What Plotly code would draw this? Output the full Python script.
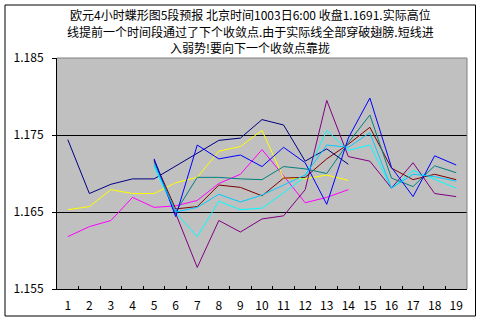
import plotly.graph_objects as go

# 4-hour periods on the category axis
periods = [str(i) for i in range(1, 20)]

# actual price lines (periods 1-14)
actual_high = [1.1744, 1.1674, 1.1686, 1.1693, 1.1693, 1.1710, 1.1727, 1.1743, 1.1746, 1.1770,
               1.1763, 1.1716, 1.1732, 1.1712, None, None, None, None, None]
actual_low = [1.1618, 1.1631, 1.1639, 1.1669, 1.1656, 1.1658, 1.1665, 1.1687, 1.1699, 1.1731,
              1.1697, 1.1662, 1.1669, 1.1679, None, None, None, None, None]
close_line = [1.1653, 1.1657, 1.1679, 1.1674, 1.1674, 1.1688, 1.1695, 1.1729, 1.1735, 1.1756,
              1.1694, 1.1693, 1.1698, 1.1691, None, None, None, None, None]

# butterfly wing forecast lines (periods 5-19)
wing_a = [None, None, None, None, 1.1709, 1.1649, 1.1618, 1.1664, 1.1653, 1.1655,
          1.1675, 1.1696, 1.1756, 1.1730, 1.1737, 1.1681, 1.1704, 1.1692, 1.1681]
wing_b = [None, None, None, None, 1.1718, 1.1649, 1.1578, 1.1639, 1.1624, 1.1641,
          1.1645, 1.1679, 1.1795, 1.1722, 1.1716, 1.1681, 1.1714, 1.1674, 1.1670]
wing_c = [None, None, None, None, 1.1717, 1.1654, 1.1657, 1.1685, 1.1682, 1.1671,
          1.1694, 1.1695, 1.1719, 1.1738, 1.1760, 1.1707, 1.1692, 1.1699, 1.1692]
wing_d = [None, None, None, None, 1.1715, 1.1650, 1.1695, 1.1695, 1.1693, 1.1692,
          1.1709, 1.1706, 1.1700, 1.1740, 1.1776, 1.1694, 1.1683, 1.1710, 1.1701]
wing_e = [None, None, None, None, 1.1719, 1.1644, 1.1737, 1.1719, 1.1724, 1.1709,
          1.1734, 1.1714, 1.1660, 1.1746, 1.1798, 1.1708, 1.1670, 1.1723, 1.1711]
wing_f = [None, None, None, None, 1.1712, 1.1650, 1.1656, 1.1673, 1.1663, 1.1672,
          1.1685, 1.1698, 1.1737, 1.1734, 1.1753, 1.1681, 1.1699, 1.1696, 1.1690]

y_ticks = [1.155, 1.165, 1.175, 1.185]
y_tick_text = ["1.155", "1.165", "1.175", "1.185"]

title_lines = [
    "欧元4小时蝶形图5段预报 北京时间1003日6:00 收盘1.1691.实际高位",
    "线提前一个时间段通过了下个收敛点.由于实际线全部穿破翅膀.短线进",
    "入弱势!要向下一个收敛点靠拢",
]

series = [
    ("实际高位", actual_high, "#000080"),
    ("实际低位", actual_low, "#FF00FF"),
    ("收盘", close_line, "#FFFF00"),
    ("翅膀A", wing_a, "#00FFFF"),
    ("翅膀B", wing_b, "#800080"),
    ("翅膀C", wing_c, "#800000"),
    ("翅膀D", wing_d, "#008080"),
    ("翅膀E", wing_e, "#0000FF"),
    ("翅膀F", wing_f, "#00CCFF"),
]

FONT = "SimSun, 'Noto Sans CJK SC', sans-serif"

fig = go.Figure()
for name, values, color in series:
    fig.add_trace(go.Scatter(
        x=periods, y=values, name=name, mode="lines",
        line=dict(color=color, width=1), connectgaps=False,
        showlegend=False,
    ))

W, H = 483, 331
L, R, T, B = 57, 16, 58, 42
pw, ph = W - L - R, H - T - B


def px_x(px):
    return (px - L) / pw


def px_y(py):
    return (H - B - py) / ph


fig.update_layout(
    width=W, height=H,
    margin=dict(l=L, r=R, t=T, b=B),
    paper_bgcolor="white",
    plot_bgcolor="#C0C0C0",
    font=dict(family=FONT, size=12, color="black"),
    showlegend=False,
)

fig.update_xaxes(
    type="category", categoryorder="array", categoryarray=periods,
    range=[-0.5, 18.5], showgrid=False, zeroline=False,
    showline=True, linecolor="black", linewidth=1,
    ticks="inside", ticklen=3, tickcolor="black", tickson="boundaries",
    tickangle=0, ticklabelstandoff=6,
    tickfont=dict(family=FONT, size=12, color="black"),
)
fig.update_yaxes(
    range=[1.155, 1.185], tickvals=y_ticks, ticktext=y_tick_text,
    showgrid=True, gridcolor="black", gridwidth=1, zeroline=False,
    showline=True, linecolor="black", linewidth=1,
    ticks="outside", ticklen=4, tickcolor="black",
    ticklabelstandoff=6,
    tickfont=dict(family=FONT, size=12, color="black"),
)

shapes = [
    # outer chart frame
    dict(type="rect", xref="paper", yref="paper",
         x0=px_x(5), x1=px_x(475.5), y0=px_y(316), y1=px_y(5),
         line=dict(color="black", width=1), layer="above"),
    # plot area border (top and right)
    dict(type="line", xref="paper", yref="paper",
         x0=0, x1=1, y0=1, y1=1, line=dict(color="#808080", width=1), layer="above"),
    dict(type="line", xref="paper", yref="paper",
         x0=1, x1=1, y0=0, y1=1, line=dict(color="#808080", width=1), layer="above"),
]
fig.update_layout(shapes=shapes)

for text, py in zip(title_lines, [14, 31, 48]):
    fig.add_annotation(
        text=text, xref="paper", yref="paper",
        x=px_x(250), y=px_y(py), xanchor="center", yanchor="middle",
        showarrow=False, font=dict(family=FONT, size=12, color="black"),
    )

fig.write_html("out.html")
